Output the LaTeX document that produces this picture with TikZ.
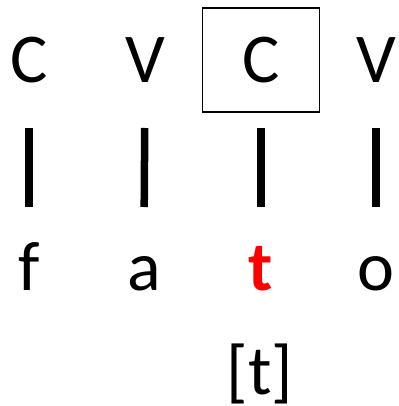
\documentclass[tikz,border=0pt]{standalone}
\usepackage{fontspec}
\setmainfont{Carlito}
\usetikzlibrary{fit}
\begin{document}
\begin{tikzpicture}[x=1pt,y=1pt,
tier/.style={inner sep=0pt,outer sep=0pt,anchor=base,font=\fontsize{70}{84}\selectfont},
skel/.style={tier,text depth=0pt,text height=46pt},
seg/.style={tier,text depth=0pt,text height=52pt},
slot/.style={draw,line width=1.5pt,inner xsep=40pt,inner ysep=29pt},
assoc/.style={line width=7.5pt,shorten <=45pt,shorten >=31pt}]
\useasboundingbox (0,0) rectangle (398,-406);

\draw (29,-83) node[skel] (c1) {C};
\draw (145,-83) node[skel] (v1) {V};
\draw (261,-83) node[skel] (c2) {C};
\draw (376,-83) node[skel] (v2) {V};
\node[slot,fit=(c2)] (box) {};

\draw (29,-290) node[seg] (f) {f};
\draw (144,-290) node[seg] (a) {a};
\draw (261,-290) node[seg,text=red] (t) {\bfseries t};
\draw (376,-290) node[seg] (o) {o};

\draw (260,-394) node[tier] (phone) {[t]};

\draw[assoc] (c1.south) -- (f.north);
\draw[assoc] (v1.south) -- (a.north);
\draw[assoc] (c2.south) -- (t.north);
\draw[assoc] (v2.south) -- (o.north);
\end{tikzpicture}
\end{document}
